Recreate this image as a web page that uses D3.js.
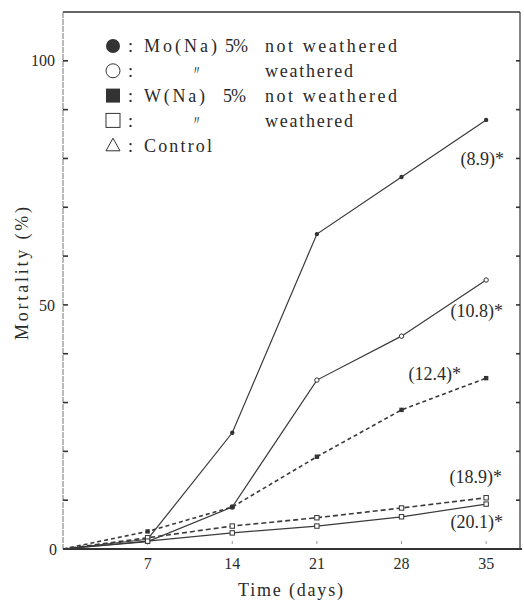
<!DOCTYPE html>
<html>
<head>
<meta charset="utf-8">
<script src="https://cdn.jsdelivr.net/npm/d3@7"></script>
<style>
 body { margin: 0; background: #fff; }
 svg text { font-family: "Liberation Serif", "Times New Roman", serif; fill: #2a2a2a; }
</style>
</head>
<body>
<div id="chart"></div>
<script>
// days and mortality (%)
var days = [0, 7, 14, 21, 28, 35];
var moNotWeathered = [0, 2.0, 23.8, 64.5, 76.2, 87.9];
var moWeathered = [0, 1.5, 8.6, 34.6, 43.6, 55.1];
var wNotWeathered = [0, 3.6, 8.6, 18.9, 28.5, 35.0];
var wWeathered = [0, 2.3, 4.7, 6.4, 8.4, 10.5];
var lowest = [0, 1.6, 3.3, 4.7, 6.6, 9.2];
var endLabels = ["(8.9)*", "(10.8)*", "(12.4)*", "(18.9)*", "(20.1)*"];
var yTicks = [0, 50, 100];
var xTicks = [7, 14, 21, 28, 35];
var legendSymbols = ["fcircle", "ocircle", "fsquare", "osquare", "triangle"];
var legendName = ["Mo(Na)", "〃", "W(Na)", "〃", "Control"];
var legendConc = ["5%", "", "5%", "", ""];
var legendState = ["not weathered", "weathered", "not weathered", "weathered", ""];

var width = 524, height = 601;
var svg = d3.select("#chart").append("svg")
  .attr("width", width).attr("height", height);

var x = d3.scaleLinear().domain([0, 37.8]).range([63, 520]);
var y = d3.scaleLinear().domain([0, 110]).range([549, 12]);

var ink = "#333";

// helper: text stretched to the width it has in the figure
function wideText(g, tx, ty, str, len, size) {
  var t = g.append("text").attr("x", tx).attr("y", ty).attr("dy", "0.35em")
    .attr("font-size", size).text(str);
  if (len) t.attr("textLength", len).attr("lengthAdjust", "spacing");
  return t;
}

// frame
svg.append("line").attr("x1", 63).attr("x2", 520).attr("y1", y(110)).attr("y2", y(110))
  .attr("stroke", ink).attr("stroke-width", 1.6);
svg.append("line").attr("x1", 520).attr("x2", 520).attr("y1", y(110)).attr("y2", y(0))
  .attr("stroke", ink).attr("stroke-width", 1.2);
svg.append("line").attr("x1", 63).attr("x2", 63).attr("y1", y(110)).attr("y2", y(0))
  .attr("stroke", "#777").attr("stroke-width", 1).attr("stroke-dasharray", "6,1");

// left & right minor ticks every 10
d3.range(10, 110, 10).forEach(function(v) {
  svg.append("line").attr("x1", 63).attr("x2", 68).attr("y1", y(v)).attr("y2", y(v))
    .attr("stroke", ink).attr("stroke-width", 1.6);
  svg.append("line").attr("x1", 516).attr("x2", 520).attr("y1", y(v)).attr("y2", y(v))
    .attr("stroke", ink).attr("stroke-width", 1.6);
});

// y tick labels
svg.selectAll(".ylab").data(yTicks).enter().append("text")
  .attr("x", function(d) { return d === 0 ? 57 : 55; })
  .attr("y", function(d) { return y(d); })
  .attr("dy", "0.35em")
  .attr("text-anchor", "end")
  .attr("font-size", 16)
  .text(function(d) { return d; });

// x axis (thick base line)
svg.append("line").attr("x1", 63).attr("x2", 522).attr("y1", y(0)).attr("y2", y(0))
  .attr("stroke", ink).attr("stroke-width", 2.2);

svg.selectAll(".xtick").data(xTicks).enter().append("line")
  .attr("x1", function(d) { return x(d); }).attr("x2", function(d) { return x(d); })
  .attr("y1", y(0) - 5).attr("y2", y(0) - 8)
  .attr("stroke", "#999").attr("stroke-width", 1);

svg.selectAll(".xlab").data(xTicks).enter().append("text")
  .attr("x", function(d) { return x(d); })
  .attr("y", 569)
  .attr("text-anchor", "middle")
  .attr("font-size", 16)
  .text(function(d) { return d; });

wideText(svg, 238, 590, "Time (days)", 105, 18);

svg.append("g").attr("transform", "translate(22,340) rotate(-90)")
  .call(function(g) { wideText(g, 0, 0, "Mortality (%)", 133, 18); });

// series
var series = [
  { values: moNotWeathered, dash: null, sym: "fcircle" },
  { values: moWeathered, dash: null, sym: "ocircle" },
  { values: wNotWeathered, dash: "4,3", sym: "fsquare" },
  { values: wWeathered, dash: "5,3", sym: "osquare" },
  { values: lowest, dash: null, sym: "osquare" }
];

var line = d3.line()
  .x(function(d) { return x(d[0]); })
  .y(function(d) { return y(d[1]); });

series.forEach(function(s) {
  var pts = days.map(function(d, i) { return [d, s.values[i]]; });
  svg.append("path").attr("d", line(pts))
    .attr("fill", "none").attr("stroke", "#3a3a3a")
    .attr("stroke-width", s.dash ? 1.6 : 1.2)
    .attr("stroke-dasharray", s.dash);
  pts.slice(1).forEach(function(p) {
    drawSymbol(svg, s.sym, x(p[0]), y(p[1]), 2.2);
  });
});

function drawSymbol(g, sym, cx, cy, r) {
  if (sym === "fcircle") {
    g.append("circle").attr("cx", cx).attr("cy", cy).attr("r", r).attr("fill", ink);
  } else if (sym === "ocircle") {
    g.append("circle").attr("cx", cx).attr("cy", cy).attr("r", r)
      .attr("fill", "#fff").attr("stroke", ink).attr("stroke-width", 1);
  } else if (sym === "fsquare") {
    g.append("rect").attr("x", cx - r).attr("y", cy - r).attr("width", 2 * r).attr("height", 2 * r)
      .attr("fill", ink);
  } else if (sym === "osquare") {
    g.append("rect").attr("x", cx - r).attr("y", cy - r).attr("width", 2 * r).attr("height", 2 * r)
      .attr("fill", "#fff").attr("stroke", ink).attr("stroke-width", 1);
  } else {
    g.append("path")
      .attr("d", "M" + cx + "," + (cy - r) + "L" + (cx + r) + "," + (cy + r * 0.8) + "L" + (cx - r) + "," + (cy + r * 0.8) + "Z")
      .attr("fill", "#fff").attr("stroke", ink).attr("stroke-width", 1);
  }
}

// end labels
var labelPos = [[504, 159], [503, 311], [461, 374], [502, 477], [503, 522]];
endLabels.forEach(function(t, i) {
  svg.append("text")
    .attr("x", labelPos[i][0]).attr("y", labelPos[i][1])
    .attr("dy", "0.35em").attr("text-anchor", "end")
    .attr("font-size", 18).text(t);
});

// legend
var nameLen = [73, 0, 61, 0, 68];
var stateLen = [132, 88, 132, 88, 0];
legendSymbols.forEach(function(sym, i) {
  var ly = 46 + i * 24.8;
  drawSymbol(svg, sym, 113, ly, 7);
  wideText(svg, 128, ly, ":", 0, 18);
  var isDitto = legendName[i] === "〃";
  wideText(svg, isDitto ? 190 : 144, ly, legendName[i], isDitto ? 0 : nameLen[i], isDitto ? 13 : 18);
  if (legendConc[i]) wideText(svg, i === 0 ? 225 : 223, ly, legendConc[i], 23, 18);
  if (legendState[i]) wideText(svg, 265, ly, legendState[i], stateLen[i], 18);
});
</script>
</body>
</html>
